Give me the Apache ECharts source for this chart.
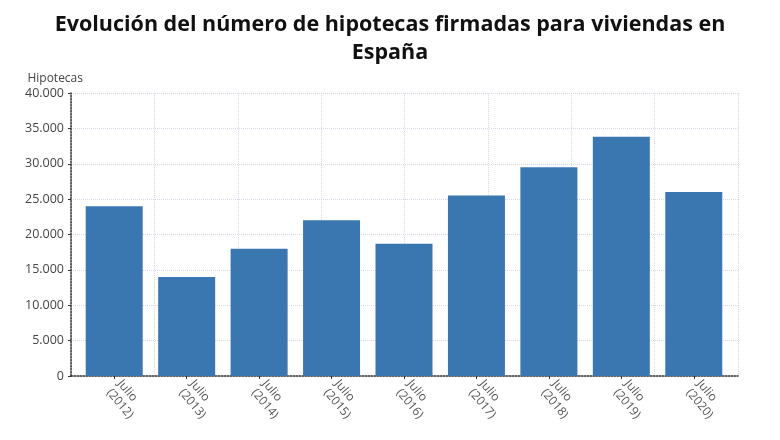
<!DOCTYPE html>
<html lang="es">
<head>
    <meta charset="UTF-8">
    <title>Hipotecas</title>
    <script src="https://cdn.jsdelivr.net/npm/echarts@6/dist/echarts.min.js"></script>
    <style>
        body { margin: 0; background: #fff; }
        #chart { width: 780px; height: 440px; }
    </style>
</head>
<body>
    <div id="chart"></div>
    <script>
        // datos
        var anios = ['Julio\n(2012)', 'Julio\n(2013)', 'Julio\n(2014)', 'Julio\n(2015)', 'Julio\n(2016)',
            'Julio\n(2017)', 'Julio\n(2018)', 'Julio\n(2019)', 'Julio\n(2020)'];
        var hipotecas = [24000, 14000, 18000, 22000, 18700, 25500, 29500, 33800, 26000];

        var fmt = function (v) {
            return v.toString().replace(/\B(?=(\d{3})+(?!\d))/g, '.');
        };

        var myChart = echarts.init(document.getElementById('chart'));

        myChart.setOption({
            animation: false,
            title: {
                text: 'Evolución del número de hipotecas firmadas para viviendas en\nEspaña',
                left: 'center',
                top: 6,
                textStyle: {
                    fontFamily: 'Open Sans',
                    fontWeight: 'bold',
                    fontSize: 21.5,
                    lineHeight: 28,
                    color: '#111'
                }
            },
            // grid 0: marco, rejilla y eje Y; grid 1: barras y etiquetas
            grid: [
                { left: 71, right: 42, top: 93, bottom: 64 },
                { left: 78, right: 50, top: 93, bottom: 64 }
            ],
            xAxis: [{
                type: 'value',
                gridIndex: 0,
                min: 0,
                max: 8,
                interval: 1,
                axisLine: { show: true, lineStyle: { color: '#333', type: 'dotted', width: 1.5 } },
                axisTick: { show: false },
                axisLabel: { show: false },
                splitLine: { show: true, lineStyle: { color: '#ddd6e6', type: 'dotted' } }
            }, {
                type: 'category',
                gridIndex: 1,
                data: anios,
                axisLine: { show: false },
                axisTick: { show: true, alignWithLabel: true, length: 3, lineStyle: { color: '#333' } },
                axisLabel: {
                    rotate: -50,
                    fontFamily: 'Open Sans',
                    fontSize: 12,
                    color: '#555',
                    lineHeight: 14,
                    margin: 10
                },
                splitLine: { show: false }
            }],
            yAxis: [{
                type: 'value',
                gridIndex: 0,
                name: 'Hipotecas',
                nameLocation: 'end',
                nameGap: 8,
                nameTextStyle: { fontFamily: 'Open Sans', fontSize: 12, color: '#444', align: 'right', padding: [0, -12, 0, 0] },
                min: 0,
                max: 40000,
                interval: 5000,
                axisLine: { show: true, lineStyle: { color: '#333', type: 'dotted', width: 1.5 } },
                axisTick: { show: true, length: 3, lineStyle: { color: '#333' } },
                axisLabel: {
                    fontFamily: 'Open Sans',
                    fontSize: 12.5,
                    color: '#444',
                    margin: 7,
                    formatter: fmt
                },
                splitLine: { lineStyle: { color: '#ddd6e6', type: 'dotted' } }
            }, {
                type: 'value',
                gridIndex: 1,
                min: 0,
                max: 40000,
                interval: 5000,
                show: false
            }],
            series: [{
                type: 'bar',
                xAxisIndex: 1,
                yAxisIndex: 1,
                data: hipotecas,
                barWidth: 57,
                itemStyle: { color: '#3a77b0' }
            }]
        });
    </script>
</body>
</html>
